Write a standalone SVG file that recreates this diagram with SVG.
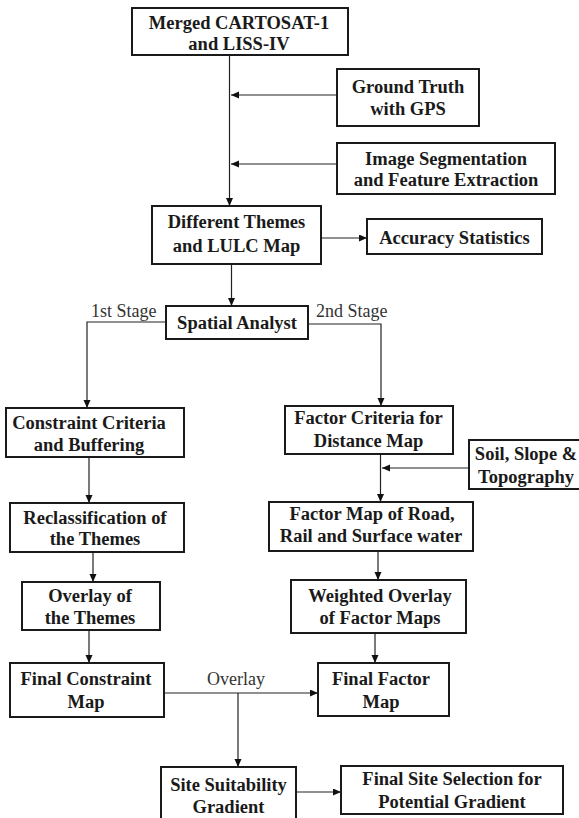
<svg xmlns="http://www.w3.org/2000/svg" width="579" height="818" viewBox="0 0 579 818">
<style>
.box{fill:#fff;stroke:#1a1a1a;stroke-width:2}
.t{font-family:"Liberation Serif","Times New Roman",serif;font-weight:bold;font-size:18.5px;fill:#1a1a1a;text-anchor:middle}
.lbl{font-family:"Liberation Serif","Times New Roman",serif;font-size:18px;fill:#333}
.c{fill:none;stroke:#222;stroke-width:1.2}
</style>
<defs>
<marker id="ah" markerUnits="userSpaceOnUse" markerWidth="9" markerHeight="8" refX="8" refY="3.5" orient="auto">
<path d="M0,0 L8,3.5 L0,7 z" fill="#111"/>
</marker>
</defs>
<rect width="579" height="818" fill="#fff"/>
<g id="connectors">
<path class="c" d="M229.5,55 V206" marker-end="url(#ah)"/>
<path class="c" d="M337,95 H231" marker-end="url(#ah)"/>
<path class="c" d="M337,164 H231" marker-end="url(#ah)"/>
<path class="c" d="M321,238 H367" marker-end="url(#ah)"/>
<path class="c" d="M231.5,264 V306" marker-end="url(#ah)"/>
<path class="c" d="M166,322 H87 V408" marker-end="url(#ah)"/>
<path class="c" d="M308,324 H381 V406" marker-end="url(#ah)"/>
<path class="c" d="M89,457 V503" marker-end="url(#ah)"/>
<path class="c" d="M93,552 V582" marker-end="url(#ah)"/>
<path class="c" d="M89,630 V663" marker-end="url(#ah)"/>
<path class="c" d="M164,693 H318" marker-end="url(#ah)"/>
<path class="c" d="M238,693 V767" marker-end="url(#ah)"/>
<path class="c" d="M380.5,454 V502" marker-end="url(#ah)"/>
<path class="c" d="M469,468 H382" marker-end="url(#ah)"/>
<path class="c" d="M378,551 V580" marker-end="url(#ah)"/>
<path class="c" d="M375,633 V663" marker-end="url(#ah)"/>
<path class="c" d="M296,792 H341" marker-end="url(#ah)"/>
<text class="lbl" x="91" y="317">1st Stage</text>
<text class="lbl" x="316" y="317">2nd Stage</text>
<text class="lbl" x="207" y="685">Overlay</text>
</g>
<g id="merged">
<rect class="box" x="132" y="8" width="216" height="47"/>
<text class="t" x="239" y="29">Merged CARTOSAT-1</text>
<text class="t" x="239" y="50">and LISS-IV</text>
</g>
<g id="ground-truth">
<rect class="box" x="337" y="69" width="142" height="57"/>
<text class="t" x="408" y="93">Ground Truth</text>
<text class="t" x="408" y="115">with GPS</text>
</g>
<g id="image-seg">
<rect class="box" x="337" y="143" width="218" height="51"/>
<text class="t" x="446" y="165">Image Segmentation</text>
<text class="t" x="446" y="186">and Feature Extraction</text>
</g>
<g id="themes">
<rect class="box" x="152" y="206" width="169" height="58"/>
<text class="t" x="236.5" y="228">Different Themes</text>
<text class="t" x="236.5" y="251.5">and LULC Map</text>
</g>
<g id="accuracy">
<rect class="box" x="367" y="219" width="175" height="35"/>
<text class="t" x="454.5" y="244">Accuracy Statistics</text>
</g>
<g id="spatial">
<rect class="box" x="166" y="306" width="142" height="33"/>
<text class="t" x="237" y="328.5">Spatial Analyst</text>
</g>
<g id="constraint-criteria">
<rect class="box" x="6" y="408" width="178" height="49"/>
<text class="t" x="89" y="428.5">Constraint Criteria</text>
<text class="t" x="89" y="450.5">and Buffering</text>
</g>
<g id="reclass">
<rect class="box" x="10" y="503" width="174" height="49"/>
<text class="t" x="95" y="523.5">Reclassification of</text>
<text class="t" x="95" y="545">the Themes</text>
</g>
<g id="overlay-themes">
<rect class="box" x="22" y="582" width="138" height="48"/>
<text class="t" x="90" y="601.5">Overlay of</text>
<text class="t" x="90" y="623.5">the Themes</text>
</g>
<g id="final-constraint">
<rect class="box" x="10" y="663" width="154" height="54"/>
<text class="t" x="86" y="685">Final Constraint</text>
<text class="t" x="86" y="707.5">Map</text>
</g>
<g id="factor-criteria">
<rect class="box" x="285" y="406" width="168" height="48"/>
<text class="t" x="368.5" y="423.5">Factor Criteria for</text>
<text class="t" x="368.5" y="446.5">Distance Map</text>
</g>
<g id="soil">
<rect class="box" x="469" y="440" width="112" height="49"/>
<text class="t" x="526" y="460">Soil, Slope &amp;</text>
<text class="t" x="526" y="482.5">Topography</text>
</g>
<g id="factor-map">
<rect class="box" x="269" y="502" width="204" height="49"/>
<text class="t" x="372" y="519.5">Factor Map of Road,</text>
<text class="t" x="371" y="541.5">Rail and Surface water</text>
</g>
<g id="weighted">
<rect class="box" x="291" y="580" width="175" height="53"/>
<text class="t" x="380" y="601.5">Weighted Overlay</text>
<text class="t" x="380" y="623.5">of Factor Maps</text>
</g>
<g id="final-factor">
<rect class="box" x="318" y="663" width="131" height="53"/>
<text class="t" x="381" y="685">Final Factor</text>
<text class="t" x="381" y="707.5">Map</text>
</g>
<g id="site-suitability">
<rect class="box" x="161" y="767" width="135" height="60"/>
<text class="t" x="228.5" y="790.5">Site Suitability</text>
<text class="t" x="228.5" y="813">Gradient</text>
</g>
<g id="final-site">
<rect class="box" x="341" y="766" width="222" height="48"/>
<text class="t" x="452" y="785">Final Site Selection for</text>
<text class="t" x="452" y="807.5">Potential Gradient</text>
</g>
</svg>
